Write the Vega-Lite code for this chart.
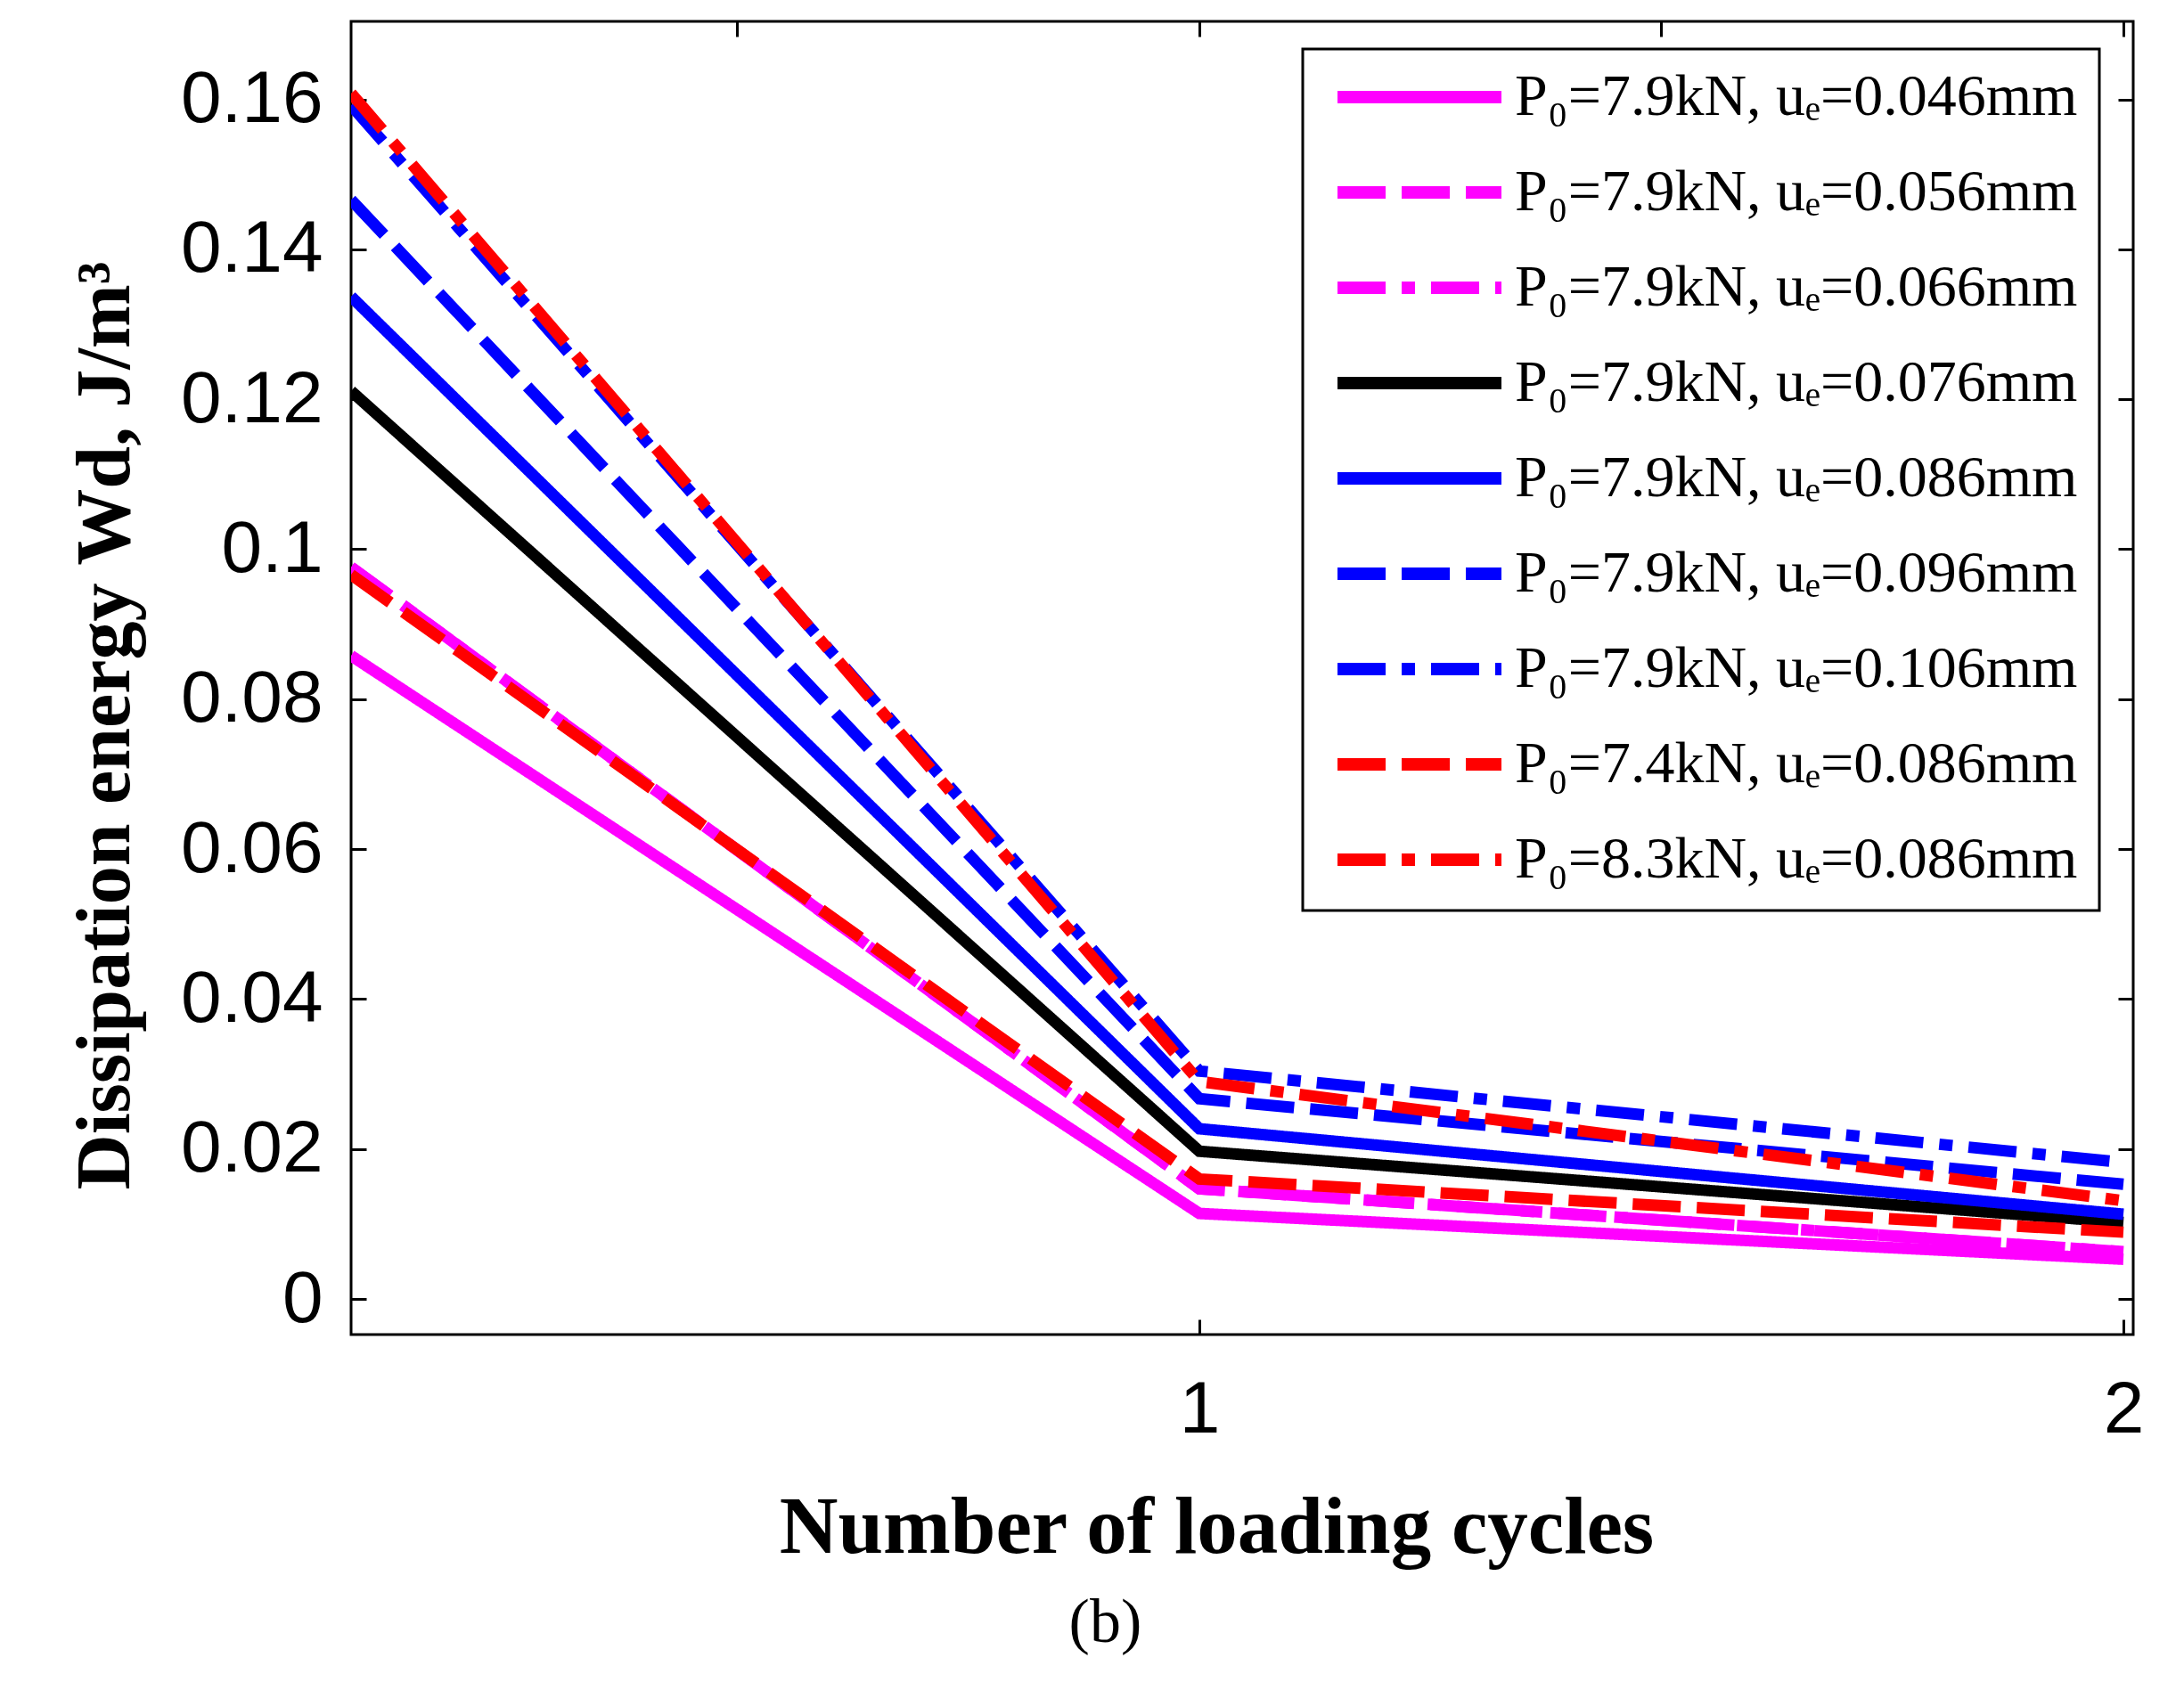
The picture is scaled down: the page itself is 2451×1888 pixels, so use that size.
{
  "$schema": "https://vega.github.io/schema/vega-lite/v6.json",
  "width": 2000,
  "height": 1474,
  "autosize": {"type": "none"},
  "padding": {"left": 394, "top": 24, "right": 57, "bottom": 390},
  "background": "white",
  "title": {
    "text": "(b)",
    "orient": "bottom",
    "anchor": "middle",
    "frame": "bounds",
    "font": "Liberation Serif",
    "fontSize": 70,
    "fontWeight": "normal",
    "color": "black",
    "offset": 28
  },
  "data": {
    "values": [
      {"series": "P₀=7.9kN, uₑ=0.046mm", "cycle": 0.082, "energy": 0.0858},
      {"series": "P₀=7.9kN, uₑ=0.046mm", "cycle": 1, "energy": 0.0114},
      {"series": "P₀=7.9kN, uₑ=0.046mm", "cycle": 2, "energy": 0.0053},
      {"series": "P₀=7.9kN, uₑ=0.056mm", "cycle": 0.082, "energy": 0.0976},
      {"series": "P₀=7.9kN, uₑ=0.056mm", "cycle": 1, "energy": 0.0147},
      {"series": "P₀=7.9kN, uₑ=0.056mm", "cycle": 2, "energy": 0.0063},
      {"series": "P₀=7.9kN, uₑ=0.066mm", "cycle": 0.082, "energy": 0.0976},
      {"series": "P₀=7.9kN, uₑ=0.066mm", "cycle": 1, "energy": 0.0147},
      {"series": "P₀=7.9kN, uₑ=0.066mm", "cycle": 2, "energy": 0.0063},
      {"series": "P₀=7.9kN, uₑ=0.076mm", "cycle": 0.082, "energy": 0.1211},
      {"series": "P₀=7.9kN, uₑ=0.076mm", "cycle": 1, "energy": 0.0197},
      {"series": "P₀=7.9kN, uₑ=0.076mm", "cycle": 2, "energy": 0.0102},
      {"series": "P₀=7.9kN, uₑ=0.086mm", "cycle": 0.082, "energy": 0.1337},
      {"series": "P₀=7.9kN, uₑ=0.086mm", "cycle": 1, "energy": 0.0227},
      {"series": "P₀=7.9kN, uₑ=0.086mm", "cycle": 2, "energy": 0.0113},
      {"series": "P₀=7.9kN, uₑ=0.096mm", "cycle": 0.082, "energy": 0.1466},
      {"series": "P₀=7.9kN, uₑ=0.096mm", "cycle": 1, "energy": 0.0267},
      {"series": "P₀=7.9kN, uₑ=0.096mm", "cycle": 2, "energy": 0.0153},
      {"series": "P₀=7.9kN, uₑ=0.106mm", "cycle": 0.082, "energy": 0.1592},
      {"series": "P₀=7.9kN, uₑ=0.106mm", "cycle": 1, "energy": 0.0304},
      {"series": "P₀=7.9kN, uₑ=0.106mm", "cycle": 2, "energy": 0.0182},
      {"series": "P₀=7.4kN, uₑ=0.086mm", "cycle": 0.082, "energy": 0.0966},
      {"series": "P₀=7.4kN, uₑ=0.086mm", "cycle": 1, "energy": 0.0160},
      {"series": "P₀=7.4kN, uₑ=0.086mm", "cycle": 2, "energy": 0.0089},
      {"series": "P₀=8.3kN, uₑ=0.086mm", "cycle": 0.082, "energy": 0.1608},
      {"series": "P₀=8.3kN, uₑ=0.086mm", "cycle": 1, "energy": 0.0290},
      {"series": "P₀=8.3kN, uₑ=0.086mm", "cycle": 2, "energy": 0.0131}
    ]
  },
  "layer": [
    {
      "mark": {"type": "line", "strokeWidth": 13, "clip": true},
      "encoding": {
        "x": {
          "field": "cycle",
          "type": "quantitative",
          "scale": {"domain": [0.082, 2.0106], "nice": false, "zero": false},
          "axis": {
            "orient": "bottom",
            "values": [1, 2],
            "format": "~g",
            "title": "Number of loading cycles",
            "titleFont": "Liberation Serif",
            "titleFontSize": 91,
            "titleFontWeight": "bold",
            "titleX": 971,
            "titleY": 217,
            "titleBaseline": "middle",
            "labelPadding": 61,
            "tickSize": -17
          }
        },
        "y": {
          "field": "energy",
          "type": "quantitative",
          "scale": {"domain": [-0.00475, 0.1704], "nice": false, "zero": false},
          "axis": {
            "orient": "left",
            "values": [0, 0.02, 0.04, 0.06, 0.08, 0.1, 0.12, 0.14, 0.16],
            "format": "~g",
            "title": "Dissipation energy Wd, J/m³",
            "titleFont": "Liberation Serif",
            "titleFontSize": 86,
            "titleFontWeight": "bold",
            "titleX": -276,
            "titleY": 790,
            "titleBaseline": "middle",
            "labelPadding": 49,
            "tickSize": -17
          }
        },
        "color": {
          "field": "series",
          "type": "nominal",
          "sort": null,
          "scale": {
            "domain": [
              "P₀=7.9kN, uₑ=0.046mm",
              "P₀=7.9kN, uₑ=0.056mm",
              "P₀=7.9kN, uₑ=0.066mm",
              "P₀=7.9kN, uₑ=0.076mm",
              "P₀=7.9kN, uₑ=0.086mm",
              "P₀=7.9kN, uₑ=0.096mm",
              "P₀=7.9kN, uₑ=0.106mm",
              "P₀=7.4kN, uₑ=0.086mm",
              "P₀=8.3kN, uₑ=0.086mm"
            ],
            "range": ["#ff00ff", "#ff00ff", "#ff00ff", "#000000", "#0000ff", "#0000ff", "#0000ff", "#ff0000", "#ff0000"]
          },
          "legend": {"title": null}
        },
        "strokeDash": {
          "field": "series",
          "type": "nominal",
          "sort": null,
          "scale": {
            "domain": [
              "P₀=7.9kN, uₑ=0.046mm",
              "P₀=7.9kN, uₑ=0.056mm",
              "P₀=7.9kN, uₑ=0.066mm",
              "P₀=7.9kN, uₑ=0.076mm",
              "P₀=7.9kN, uₑ=0.086mm",
              "P₀=7.9kN, uₑ=0.096mm",
              "P₀=7.9kN, uₑ=0.106mm",
              "P₀=7.4kN, uₑ=0.086mm",
              "P₀=8.3kN, uₑ=0.086mm"
            ],
            "range": [[1, 0], [54, 18], [54, 18, 15, 18], [1, 0], [1, 0], [54, 18], [54, 18, 15, 18], [54, 18], [54, 18, 15, 18]]
          },
          "legend": {"title": null}
        }
      }
    },
    {
      "mark": {"type": "line", "opacity": 0},
      "encoding": {
        "x": {
          "field": "cycle",
          "type": "quantitative",
          "scale": {"domain": [0.082, 2.0106], "nice": false, "zero": false},
          "axis": {
            "orient": "top",
            "values": [0.5, 1, 1.5, 2],
            "labels": false,
            "title": null,
            "tickSize": -17
          }
        },
        "y": {
          "field": "energy",
          "type": "quantitative",
          "scale": {"domain": [-0.00475, 0.1704], "nice": false, "zero": false},
          "axis": {
            "orient": "right",
            "values": [0, 0.02, 0.04, 0.06, 0.08, 0.1, 0.12, 0.14, 0.16],
            "labels": false,
            "title": null,
            "tickSize": -17
          }
        },
        "detail": {"field": "series", "type": "nominal"}
      }
    }
  ],
  "config": {
    "view": {"stroke": "black", "strokeWidth": 3},
    "axis": {
      "grid": false,
      "domain": false,
      "tickColor": "black",
      "tickWidth": 3,
      "labelFont": "Liberation Sans",
      "labelFontSize": 82,
      "labelColor": "black",
      "titleColor": "black"
    },
    "legend": {
      "orient": "none",
      "legendX": 1068,
      "legendY": 31,
      "fillColor": "white",
      "strokeColor": "black",
      "strokeWidth": 3,
      "padding": 24,
      "symbolType": "stroke",
      "symbolSize": 33856,
      "symbolStrokeWidth": 14,
      "symbolOffset": 8,
      "clipHeight": 60,
      "rowPadding": 41,
      "labelOffset": 8,
      "labelFont": "Liberation Serif",
      "labelFontSize": 66,
      "labelColor": "black",
      "labelLimit": 1200
    }
  }
}
